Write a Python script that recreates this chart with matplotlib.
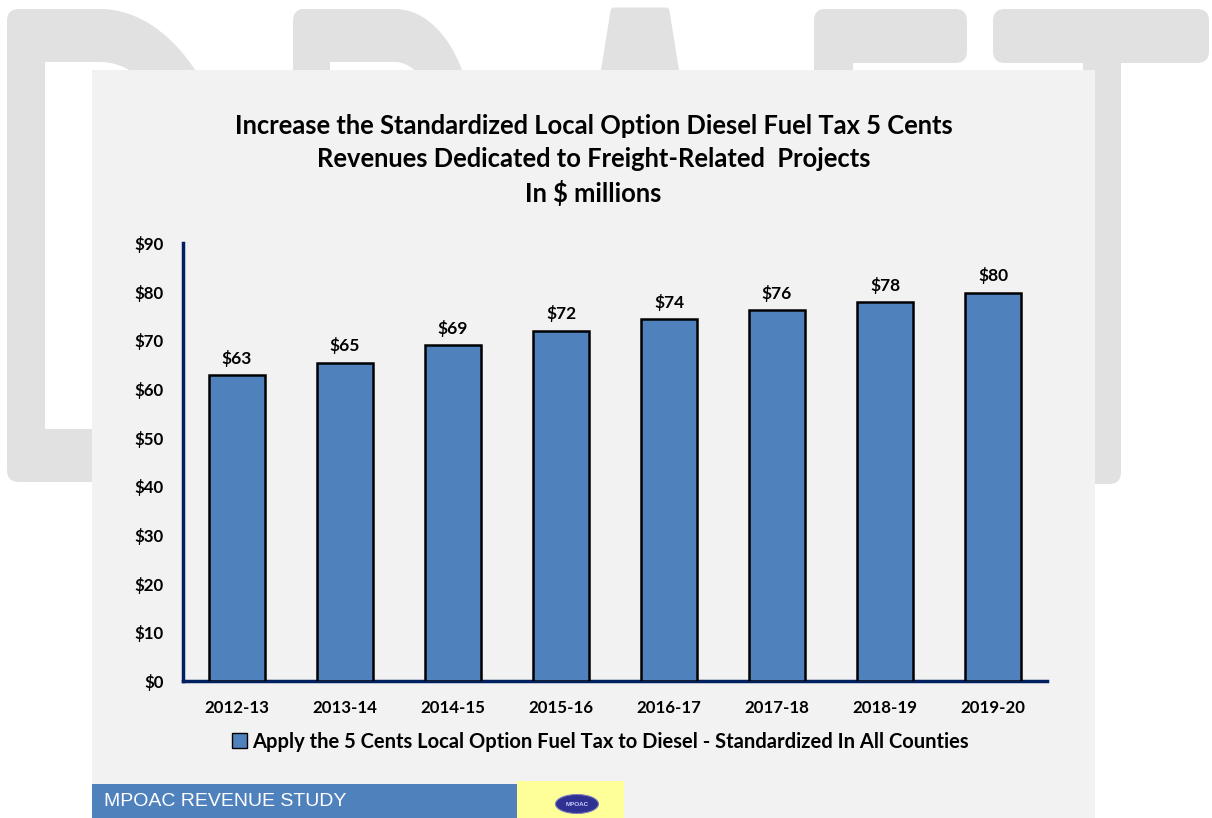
import numpy as np
import matplotlib
matplotlib.use('Agg')
import matplotlib.pyplot as plt
from matplotlib.patches import Rectangle, FancyBboxPatch, Polygon, Ellipse

# data
years = ['2012-13', '2013-14', '2014-15', '2015-16',
         '2016-17', '2017-18', '2018-19', '2019-20']
revenue = [62.9, 65.4, 69.0, 72.0, 74.4, 76.2, 77.9, 79.8]
yticks = [0, 10, 20, 30, 40, 50, 60, 70, 80, 90]
title = ('Increase the Standardized Local Option Diesel Fuel Tax 5 Cents\n'
         'Revenues Dedicated to Freight-Related  Projects\n'
         'In $ millions')
series_name = 'Apply the 5 Cents Local Option Fuel Tax to Diesel - Standardized In All Counties'
footer = 'MPOAC REVENUE STUDY'

bar_color = '#4f81bd'
axis_color = '#002060'
wm = '#e1e1e1'
W, H = 1212, 818

plt.rcParams['font.family'] = ['Lato', 'DejaVu Sans']

fig = plt.figure(figsize=(W / 100, H / 100), dpi=100)
fig.patch.set_facecolor('white')

# background layer in pixel coordinates
bg = fig.add_axes([0, 0, 1, 1])
bg.set_xlim(0, W)
bg.set_ylim(H, 0)
bg.axis('off')


def rbox(x0, y0, x1, y1, color, r=12, z=1):
    bg.add_patch(FancyBboxPatch((x0 + r, y0 + r), x1 - x0 - 2 * r, y1 - y0 - 2 * r,
                                boxstyle='round,pad=%d' % r, fc=color, ec='none', zorder=z))


def half_ellipse(xc, yc, a, b, color, z=1):
    t = np.linspace(-np.pi / 2, np.pi / 2, 100)
    pts = np.column_stack([xc + a * np.cos(t), yc + b * np.sin(t)])
    bg.add_patch(Polygon(pts, closed=True, fc=color, ec='none', zorder=z))


# "DRAFT" watermark behind the panel
# D
half_ellipse(100, 245.5, 142, 236.5, wm)
bg.add_patch(Rectangle((20, 9), 81, 473, fc=wm, ec='none', zorder=1))
half_ellipse(100, 245.5, 100, 183.5, 'white', z=2)
bg.add_patch(Rectangle((45, 62), 56, 367, fc='white', ec='none', zorder=2))
rbox(7, 9, 45, 482, wm, z=3)
# R
half_ellipse(395, 134, 78, 125, wm)
bg.add_patch(Rectangle((300, 9), 96, 250, fc=wm, ec='none', zorder=1))
half_ellipse(395, 134, 42, 72, 'white', z=2)
bg.add_patch(Rectangle((330, 62), 66, 144, fc='white', ec='none', zorder=2))
rbox(293, 9, 330, 482, wm, z=3)
# A
bg.add_patch(Polygon([(538, 484), (614, 11), (666, 11), (742, 484)], closed=True,
                     fc=wm, ec=wm, lw=5, joinstyle='round', zorder=1))
# F
rbox(814, 9, 967, 63, wm)
rbox(814, 9, 853, 484, wm)
# T
rbox(993, 9, 1209, 63, wm)
rbox(1083, 9, 1121, 484, wm)

# slide panel
bg.add_patch(Rectangle((92, 70), 1003, 748, fc='#f2f2f2', ec='none', zorder=5))

# footer
bg.add_patch(Rectangle((92, 784), 425, 34, fc=bar_color, ec='none', zorder=6))
bg.add_patch(Rectangle((517, 781), 107, 37, fc='#ffff99', ec='none', zorder=6))
bg.text(104, 801, footer, color='white', fontsize=14, va='center', ha='left',
        family='Liberation Sans', zorder=7)
bg.add_patch(Ellipse((577, 804), 43, 19, fc='#2e3192', ec='#7f7fc0', lw=0.8, zorder=7))
bg.text(577, 804.5, 'MPOAC', color='#d0d0ff', fontsize=4.5, fontweight='bold',
        ha='center', va='center', family='Liberation Sans', zorder=8)

# title
fig.text(593.5 / W, 1 - 160 / H, title, ha='center', va='center', multialignment='center',
         fontsize=18.4, fontweight='bold', linespacing=1.42)

# chart
ax = fig.add_axes([183 / W, 1 - 681 / H, 864 / W, 438 / H])
ax.set_facecolor('none')
x = np.arange(len(years))
bars = ax.bar(x, revenue, width=0.52, color=bar_color, edgecolor='black', linewidth=1.8,
              label=series_name, zorder=3)
for xi, v in zip(x, revenue):
    ax.annotate('$%d' % round(v), (xi, v), xytext=(0, 6), textcoords='offset points',
                ha='center', va='bottom', fontsize=12.5, fontweight='bold')

ax.set_xlim(-0.5, len(years) - 0.5)
ax.set_ylim(0, 90)
ax.set_xticks(x)
ax.set_xticklabels(years, fontsize=12.2, fontweight='bold')
ax.set_yticks(yticks)
ax.set_yticklabels(['$%d' % t for t in yticks], fontsize=12.2, fontweight='bold')
ax.tick_params(axis='both', length=0)
ax.tick_params(axis='y', pad=14)
ax.tick_params(axis='x', pad=14)
for s in ['top', 'right']:
    ax.spines[s].set_visible(False)
for s in ['left', 'bottom']:
    ax.spines[s].set_color(axis_color)
    ax.spines[s].set_linewidth(2.5)

leg = ax.legend(loc='center', bbox_to_anchor=(0.483, -0.139), frameon=False,
                handlelength=0.75, handleheight=0.75, handletextpad=0.25,
                prop={'size': 14.5, 'weight': 'bold'})
for p in leg.get_patches():
    p.set_linewidth(1)

fig.savefig('out.png', dpi=100)
